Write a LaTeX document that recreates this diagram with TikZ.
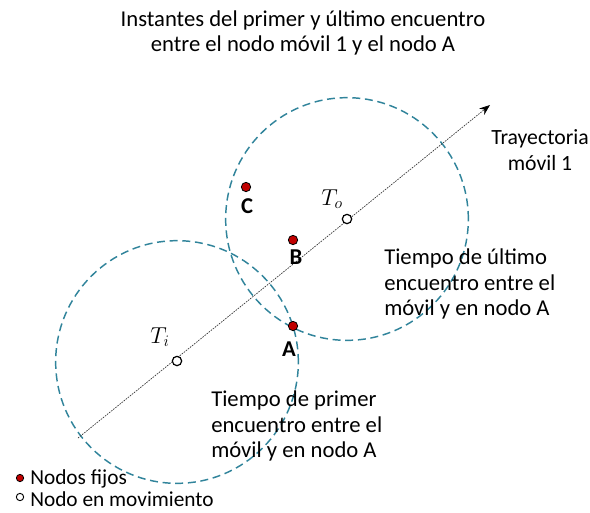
\documentclass[tikz,border=0pt]{standalone}
\usepackage{fontspec}
\setmainfont{Carlito}
\usetikzlibrary{arrows.meta}
\definecolor{rangeblue}{HTML}{31849B}
\definecolor{fixred}{HTML}{C00000}
\begin{document}
\begin{tikzpicture}[x=0.75pt, y=-0.75pt,
    every node/.style={inner sep=0pt, font=\fontsize{17}{19.2}\selectfont},
    fixnode/.style={circle, draw=black, fill=fixred, minimum size=7pt, line width=0.6pt},
    movnode/.style={circle, draw=black, fill=white, minimum size=7pt, line width=0.9pt},
    coverage/.style={draw=rangeblue, line width=1.1pt, dash pattern=on 6pt off 3.5pt},
    txt/.style={align=left, anchor=west},
    letter/.style={font=\fontsize{17}{19.2}\selectfont\bfseries},
    legend/.style={anchor=west, font=\fontsize{16}{18}\selectfont}]
    \useasboundingbox (0,0) rectangle (590,512);

    \node[align=center] (title) at (303,33) {Instantes del primer y último encuentro\\entre el nodo móvil 1 y el nodo A};

    \draw[coverage] (177,362) circle[radius=91pt];
    \draw[coverage] (347,219) circle[radius=91pt];

    \coordinate (start) at (78,438);
    \coordinate (end) at (490,105);
    \draw[black!80, line width=0.5pt, dash pattern=on 1.2pt off 0.8pt,
          -{Stealth[length=8pt, width=6pt, black]}] (start) -- (end);

    \node[movnode] (ti) at (177,361) {};
    \node[movnode] (to) at (347,219) {};
    \node (til) at (160,337) {$T_i$};
    \node (tol) at (332,199) {$T_o$};

    \node[fixnode] (c) at (246,187) {};
    \node[fixnode] (b) at (293,240) {};
    \node[fixnode] (a) at (293,326) {};
    \node[letter] (cl) at (247,206) {C};
    \node[letter] (bl) at (296,257) {B};
    \node[letter] (al) at (289,349) {A};

    \node[align=center, font=\fontsize{16.3}{19.2}\selectfont] (tray) at (540,150) {Trayectoria\\móvil 1};
    \node[txt] (ultimo) at (384,284) {Tiempo de último\\encuentro entre el\\móvil y en nodo A};
    \node[txt] (primer) at (211,426) {Tiempo de primer\\encuentro entre el\\móvil y en nodo A};

    % leyenda
    \node[fixnode, minimum size=5.5pt] (lfix) at (20,478) {};
    \node[movnode, minimum size=5.5pt, line width=0.7pt] (lmov) at (20,497) {};
    \node[legend] (lfixt) at (30,479) {Nodos fijos};
    \node[legend] (lmovt) at (30,499) {Nodo en movimiento};
\end{tikzpicture}
\end{document}
